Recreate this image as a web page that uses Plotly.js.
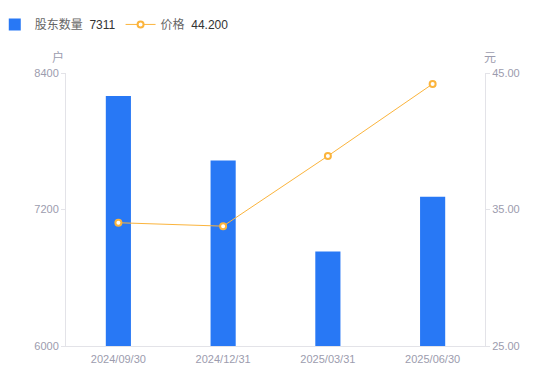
<!DOCTYPE html>
<html>
<head>
<meta charset="utf-8">
<script src="https://cdn.plot.ly/plotly-3.0.1.min.js"></script>
<style>html,body{margin:0;padding:0;background:#fff;}#chart{width:550px;height:381px;}</style>
</head>
<body>
<div id="chart"></div>
<script>
const categories = ["2024/09/30", "2024/12/31", "2025/03/31", "2025/06/30"];
const holders = [8198, 7630, 6830, 7311];
const prices = [34.03, 33.78, 38.92, 44.20];
const holderName = "股东数量";
const priceName = "价格";
const leftTicks = [6000, 7200, 8400];
const rightTicks = [25, 35, 45];
const rightTickText = ["25.00", "35.00", "45.00"];

const FONT = '"Liberation Sans", Arial, "Noto Sans CJK SC", sans-serif';
const tickColor = '#9c9cae';

const traces = [
  {
    type: 'bar', x: categories, y: holders,
    name: holderName + '  <span style="color:#333">' + holders[holders.length-1] + '</span>',
    marker: {color: '#2878f5', line: {width: 0}},
    width: 0.24, yaxis: 'y', hoverinfo: 'none'
  },
  {
    type: 'scatter', mode: 'lines+markers', x: categories, y: prices,
    name: priceName + '  <span style="color:#333">' + prices[prices.length-1].toFixed(3) + '</span>',
    line: {color: '#fbb43c', width: 1},
    marker: {symbol: 'circle', size: 6, color: '#ffffff', line: {color: '#fbb43c', width: 2}},
    yaxis: 'y2', hoverinfo: 'none'
  }
];

const layout = {
  width: 550, height: 381,
  margin: {l: 66, r: 65, t: 73, b: 35, autoexpand: false},
  paper_bgcolor: '#fff', plot_bgcolor: '#fff',
  font: {family: FONT, size: 11, color: tickColor},
  showlegend: true,
  legend: {
    orientation: 'h', x: -0.170, y: 1.231, xanchor: 'left', yanchor: 'top',
    font: {size: 12, color: '#666', family: FONT},
    itemwidth: 30, traceorder: 'normal'
  },
  xaxis: {
    type: 'category', showgrid: false, zeroline: false,
    showline: true, linecolor: '#e3e3e8', linewidth: 1,
    ticks: '', ticklabelstandoff: 3, tickfont: {size: 11, color: tickColor}, fixedrange: true
  },
  yaxis: {
    range: [6000, 8400], tickvals: leftTicks, showgrid: false, zeroline: false,
    showline: true, linecolor: '#e3e3e8', linewidth: 1,
    ticks: 'outside', ticklen: 4, tickcolor: '#e3e3e8',
    tickfont: {size: 11, color: tickColor}
  },
  yaxis2: {
    range: [25, 45], tickvals: rightTicks, ticktext: rightTickText,
    overlaying: 'y', side: 'right', showgrid: false, zeroline: false,
    showline: true, linecolor: '#e3e3e8', linewidth: 1,
    ticks: 'outside', ticklen: 4, tickcolor: '#e3e3e8',
    tickfont: {size: 11, color: tickColor}
  },
  annotations: [
    {text: '户', xref: 'paper', yref: 'paper', x: 0.0, y: 1.062, xanchor: 'right', yanchor: 'middle', showarrow: false, font: {size: 12, color: tickColor, family: '"Noto Sans CJK SC", sans-serif'}},
    {text: '元', xref: 'paper', yref: 'paper', x: 0.993, y: 1.062, xanchor: 'left', yanchor: 'middle', showarrow: false, font: {size: 12, color: tickColor, family: '"Noto Sans CJK SC", sans-serif'}}
  ]
};

Plotly.newPlot('chart', traces, layout, {displayModeBar: false, staticPlot: true});
</script>
</body>
</html>
